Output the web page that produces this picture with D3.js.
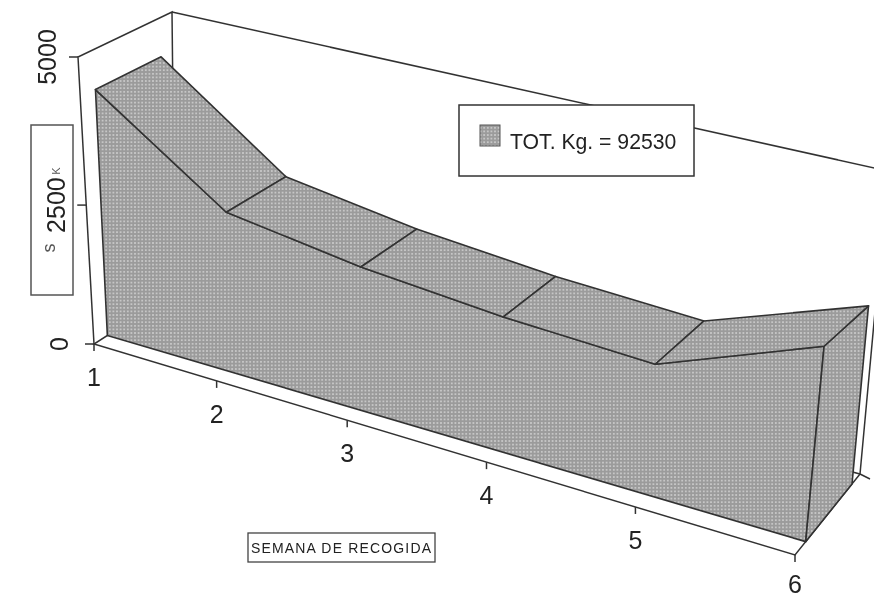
<!DOCTYPE html>
<html>
<head>
<meta charset="utf-8">
<script src="https://cdn.jsdelivr.net/npm/d3@7"></script>
<style>
  html, body { margin: 0; padding: 0; background: #fff; }
  svg { display: block; }
  text { font-family: "Liberation Sans", Arial, sans-serif; fill: #222; }
</style>
</head>
<body>
<svg></svg>
<script>
// data
const weeks = [1, 2, 3, 4, 5, 6];
const kilos = [4322, 2771, 2423, 2195, 2066, 2955];
const valueTicks = [0, 2500, 5000];
const legendLabel = "TOT. Kg. = 92530";
const axisTitleX = "SEMANA DE RECOGIDA";

const width = 874;
const height = 599;

const svg = d3.select("svg")
    .attr("width", width)
    .attr("height", height)
    .attr("viewBox", [0, 0, width, height]);

// halftone fill of the scan
const defs = svg.append("defs");
const pat = defs.append("pattern")
    .attr("id", "halftone")
    .attr("patternUnits", "userSpaceOnUse")
    .attr("width", 3.6)
    .attr("height", 3.6);
pat.append("rect").attr("width", 3.6).attr("height", 3.6).attr("fill", "#9b9b9b");
pat.append("circle").attr("cx", 1.8).attr("cy", 1.8).attr("r", 1).attr("fill", "#d0d0d0");
defs.append("filter").attr("id", "scan")
  .append("feGaussianBlur").attr("stdDeviation", 0.5);

// corners of the box as drawn in perspective, [across, up, depth]
const corners = {
  p000: [94, 344], p100: [795, 555], p001: [175, 292], p101: [860, 474],
  p010: [78, 57], p110: [827.5, 210], p011: [172, 12], p111: [888, 171]
};
const lerp = (a, b, t) => [a[0] + (b[0] - a[0]) * t, a[1] + (b[1] - a[1]) * t];

const x = d3.scaleLinear().domain([1, 6]).range([0, 1]);
const y = d3.scaleLinear().domain([0, 2500, 5000]).range([0, 0.484, 1]);
const z = d3.scaleLinear().domain([0, 1]).range([0, 1]);

// weeks further back are closer together
function project(week, value, depth) {
  const t = x(week);
  const u = t / (t + 1.179 * (1 - t));
  const v = y(value);
  const w = z(depth);
  const c = corners;
  const base = lerp(lerp(c.p000, c.p100, u), lerp(c.p001, c.p101, u), w);
  const top = lerp(lerp(c.p010, c.p110, u), lerp(c.p011, c.p111, u), w);
  return lerp(base, top, v);
}

const front = 0.165;
const back = 0.877;
const line = d3.line();
const stroke = "#333";

function seg(g, pts, sw = 1.5) {
  g.append("path")
      .attr("d", line(pts))
      .attr("fill", "none")
      .attr("stroke", stroke)
      .attr("stroke-width", sw);
}

const g = svg.append("g").attr("filter", "url(#scan)");

// walls and floor
seg(g, [project(1, 0, 0), project(1, 5000, 0), project(1, 5000, 1), project(1, 0, 1)]);
seg(g, [project(1, 5000, 1), project(6, 5000, 1), project(6, 0, 1), project(1, 0, 1)]);
seg(g, [project(1, 0, 1), project(1, 0, 0), project(6, 0, 0), project(6, 0, 1)]);

// value axis ticks
const valueLabelX = {0: 68, 2500: 65, 5000: 56};
valueTicks.forEach(d => {
  const p = project(1, d, 0);
  seg(g, [[p[0] - 9, p[1]], p]);
  g.append("text")
      .attr("transform", `translate(${valueLabelX[d]},${p[1]}) rotate(-90)`)
      .attr("text-anchor", "middle")
      .attr("font-size", 25)
      .text(d);
});

// the small tick on the far wall
const pFar = project(6, 0, 1);
seg(g, [pFar, [pFar[0] + 10, pFar[1] + 5]]);

// week axis
weeks.forEach(d => {
  const p = project(d, 0, 0);
  seg(g, [p, [p[0], p[1] + 7]]);
  g.append("text")
      .attr("x", p[0])
      .attr("y", Math.min(p[1] + 42, 593))
      .attr("text-anchor", "middle")
      .attr("font-size", 25)
      .text(d);
});

// the solid
const frontTop = weeks.map((d, i) => project(d, kilos[i], front));
const backTop = weeks.map((d, i) => project(d, kilos[i], back));
const baseFront = [project(6, 0, front), project(1, 0, front)];
const last = weeks.length - 1;

const solid = [
  [...frontTop, ...baseFront],
  [frontTop[last], backTop[last], project(6, 0, back), project(6, 0, front)],
  ...d3.pairs(weeks.map((d, i) => i)).map(([a, b]) => [frontTop[a], frontTop[b], backTop[b], backTop[a]])
];
g.append("g")
  .selectAll("path")
  .data(solid)
  .join("path")
    .attr("d", d => line(d) + "Z")
    .attr("fill", "url(#halftone)")
    .attr("stroke", stroke)
    .attr("stroke-width", 1.6)
    .attr("stroke-linejoin", "round");

// legend
const legend = g.append("g");
legend.append("rect")
    .attr("x", 459).attr("y", 105).attr("width", 235).attr("height", 71)
    .attr("fill", "#fff").attr("stroke", stroke).attr("stroke-width", 1.5);
legend.append("rect")
    .attr("x", 480).attr("y", 125).attr("width", 20).attr("height", 21)
    .attr("fill", "url(#halftone)").attr("stroke", "#555");
legend.append("text")
    .attr("x", 510).attr("y", 149)
    .attr("font-size", 21.2)
    .text(legendLabel);

// axis title boxes, the title itself is mostly lost under the tick label
const yBox = g.append("g");
yBox.append("rect")
    .attr("x", 31).attr("y", 125).attr("width", 42).attr("height", 170)
    .attr("fill", "none").attr("stroke", "#555").attr("stroke-width", 1.5);
yBox.append("text")
    .attr("transform", "translate(55,248) rotate(-90)")
    .attr("text-anchor", "middle")
    .attr("font-size", 18)
    .attr("style", "fill:#555")
    .text("s");
yBox.append("text")
    .attr("transform", "translate(60,171) rotate(-90)")
    .attr("text-anchor", "middle")
    .attr("font-size", 11)
    .attr("style", "fill:#555")
    .text("K");

const xBox = g.append("g");
xBox.append("rect")
    .attr("x", 248).attr("y", 533).attr("width", 187).attr("height", 29)
    .attr("fill", "#fff").attr("stroke", "#444").attr("stroke-width", 1.3);
xBox.append("text")
    .attr("x", 341).attr("y", 553)
    .attr("text-anchor", "middle")
    .attr("font-size", 14)
    .attr("textLength", 180)
    .text(axisTitleX);
</script>
</body>
</html>
